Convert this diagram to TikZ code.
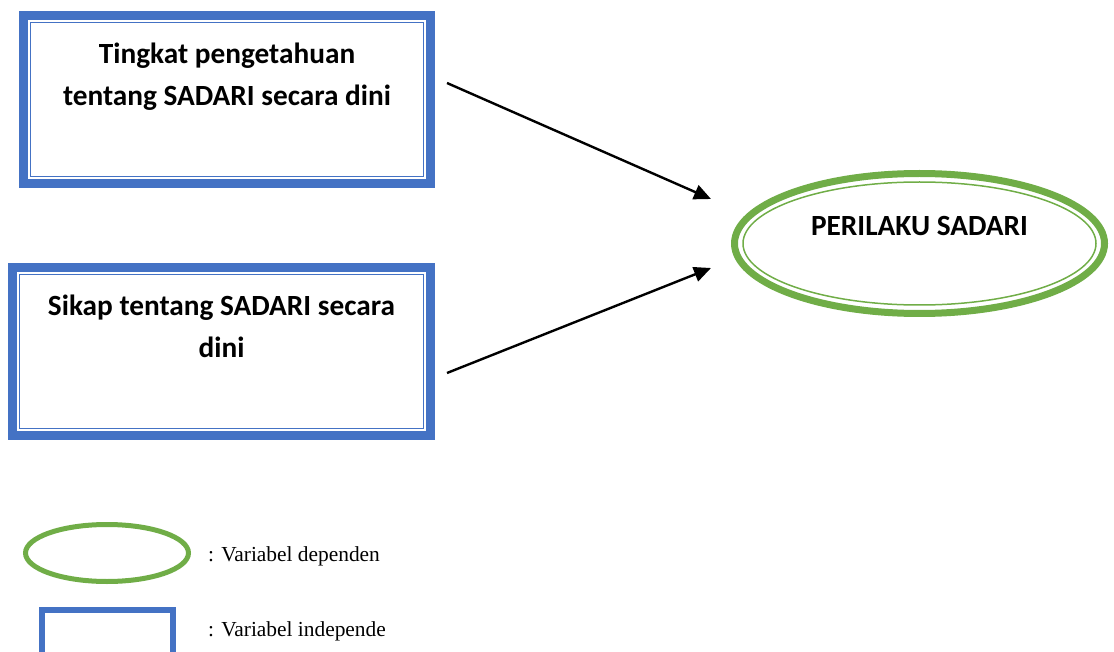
\documentclass[tikz,border=0pt]{standalone}
\usepackage{fontspec}
\setmainfont{Liberation Serif}
\newfontfamily\calfont{Carlito}
\usetikzlibrary{arrows.meta,shapes.geometric}
\definecolor{boxblue}{HTML}{4472C4}
\definecolor{ellgreen}{HTML}{70AD47}
\tikzset{
  varbox/.style={draw=boxblue, line width=9pt, minimum width=407pt, minimum height=168pt, inner sep=0pt, outer sep=0pt},
  innerbox/.style={draw=boxblue, line width=1.5pt},
  varell/.style={ellipse, draw=ellgreen, line width=7pt, minimum width=370pt, minimum height=140pt, inner sep=0pt, outer sep=0pt},
  innerell/.style={draw=ellgreen, line width=1.5pt},
  boxtext/.style={font=\calfont\bfseries\fontsize{29.3}{42}\selectfont, align=center, inner sep=0pt, anchor=base},
  legtext/.style={font=\fontsize{21.4}{24}\selectfont, inner sep=0pt, anchor=base west},
  conn/.style={line width=2.4pt, -{Triangle[length=17pt,width=15pt]}},
}
\begin{document}
\begin{tikzpicture}[x=1pt,y=-1pt]
\useasboundingbox (0,0) rectangle (1114,652);
% independent boxes
\node[varbox] (b1) at (227,99.5) {};
\draw[innerbox] ([xshift=7pt,yshift=-7pt]b1.north west) rectangle ([xshift=-7pt,yshift=7pt]b1.south east);
\node[boxtext] (t1) at (227,106) {Tingkat pengetahuan\\tentang SADARI secara dini};
\node[varbox, minimum width=418pt] (b2) at (221.5,351.5) {};
\draw[innerbox] ([xshift=7pt,yshift=-7pt]b2.north west) rectangle ([xshift=-7pt,yshift=7pt]b2.south east);
\node[boxtext] (t2) at (221.5,357) {Sikap tentang SADARI secara\\dini};
% dependent ellipse
\node[varell] (e1) at (919.5,243.5) {};
\draw[innerell] (e1.center) ellipse [x radius=176.5pt, y radius=61.5pt];
\node[boxtext] (t3) at (919.5,236) {PERILAKU SADARI};
% connectors
\coordinate (s1) at (447,83);
\coordinate (h1) at (711,199);
\coordinate (s2) at (447,373);
\coordinate (h2) at (711,268);
\draw[conn] (s1) -- (h1);
\draw[conn] (s2) -- (h2);
% legend
\node[ellipse, draw=ellgreen, line width=5pt, minimum width=163pt, minimum height=57pt, inner sep=0pt] (le) at (107,553) {};
\node[legtext] (lt1) at (208,561) {: Variabel dependen};
\draw[boxblue, line width=6pt] (42,660) |- (173,610) -- (173,660);
\node[legtext] (lt2) at (208,636) {: Variabel independe};
\end{tikzpicture}
\end{document}
